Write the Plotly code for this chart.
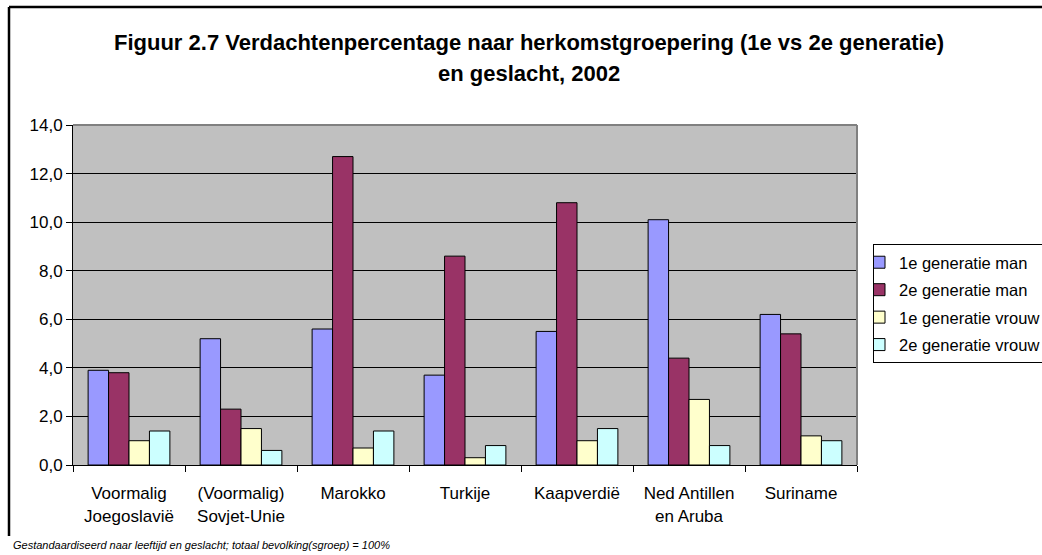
import plotly.graph_objects as go

categories = ["Voormalig<br>Joegoslavië", "(Voormalig)<br>Sovjet-Unie", "Marokko", "Turkije",
              "Kaapverdië", "Ned Antillen<br>en Aruba", "Suriname"]
gen1_man = [3.9, 5.2, 5.6, 3.7, 5.5, 10.1, 6.2]
gen2_man = [3.8, 2.3, 12.7, 8.6, 10.8, 4.4, 5.4]
gen1_vrouw = [1.0, 1.5, 0.7, 0.3, 1.0, 2.7, 1.2]
gen2_vrouw = [1.4, 0.6, 1.4, 0.8, 1.5, 0.8, 1.0]

series_names = ["1e generatie man", "2e generatie man", "1e generatie vrouw", "2e generatie vrouw"]
series_values = [gen1_man, gen2_man, gen1_vrouw, gen2_vrouw]
series_colors = ["#9999FF", "#993366", "#FFFFCC", "#CCFFFF"]

title_line1 = "Figuur 2.7 Verdachtenpercentage naar herkomstgroepering (1e vs 2e generatie)"
title_line2 = "en geslacht, 2002"
footnote = "Gestandaardiseerd naar leeftijd en geslacht; totaal bevolking(sgroep) = 100%"

W, H = 1042, 555
px = lambda x: x / W
py = lambda y: 1 - y / H

FONT = "Liberation Sans, Arial, sans-serif"

fig = go.Figure()
for i, (name, vals, col) in enumerate(zip(series_names, series_values, series_colors)):
    fig.add_trace(go.Bar(
        x=categories, y=vals, name=name,
        marker=dict(color=col, line=dict(color="black", width=1)),
        legendgroup=f"g{i}",
    ))

x0, x1 = 73, 857
y0, y1 = 125, 465

fig.update_layout(
    width=W, height=H,
    margin=dict(l=0, r=0, t=0, b=0, autoexpand=False),
    paper_bgcolor="white",
    plot_bgcolor="#C0C0C0",
    barmode="group",
    bargap=0.27,
    bargroupgap=0,
    separators=",.",
    font=dict(family=FONT, size=17, color="black"),
    showlegend=True,
    legend=dict(
        x=px(873), y=py(244), xanchor="left", yanchor="top",
        bordercolor="black", borderwidth=1, bgcolor="white",
        font=dict(family=FONT, size=16.5, color="black"),
        traceorder="grouped", tracegroupgap=3,
        itemwidth=30, indentation=-15,
    ),
    xaxis=dict(
        domain=[px(x0), px(x1)],
        showline=True, linecolor="black", linewidth=1,
        ticks="outside", tickson="boundaries", ticklen=6, tickcolor="black",
        tickfont=dict(family=FONT, size=17, color="black"),
        ticklabelstandoff=13,
        tickangle=0, automargin=False,
        showgrid=False,
    ),
    yaxis=dict(
        domain=[py(y1), py(y0)],
        range=[0, 14], dtick=2, tickformat=".1f",
        showline=True, linecolor="black", linewidth=1,
        ticks="outside", ticklen=6, tickcolor="black",
        tickfont=dict(family=FONT, size=17, color="black"),
        automargin=False,
        showgrid=True, gridcolor="black", gridwidth=1,
        zeroline=False,
    ),
    shapes=[
        dict(type="line", xref="paper", yref="paper", x0=px(x0), x1=px(x1), y0=py(y0), y1=py(y0),
             line=dict(color="#808080", width=2)),
        dict(type="line", xref="paper", yref="paper", x0=px(x1), x1=px(x1), y0=py(y0), y1=py(y1),
             line=dict(color="#808080", width=2)),
        dict(type="line", xref="paper", yref="paper", x0=px(9), x1=1, y0=py(7), y1=py(7),
             line=dict(color="black", width=2.5)),
        dict(type="line", xref="paper", yref="paper", x0=px(9), x1=px(9), y0=py(7), y1=py(536),
             line=dict(color="black", width=2.5)),
    ],
    annotations=[
        dict(text="<b>" + title_line1 + "</b>", xref="paper", yref="paper", x=px(529), y=py(43),
             xanchor="center", yanchor="middle", showarrow=False,
             font=dict(family=FONT, size=22, color="black")),
        dict(text="<b>" + title_line2 + "</b>", xref="paper", yref="paper", x=px(529), y=py(73),
             xanchor="center", yanchor="middle", showarrow=False,
             font=dict(family=FONT, size=22, color="black")),
        dict(text="<i>" + footnote + "</i>", xref="paper", yref="paper", x=px(11), y=py(545),
             xanchor="left", yanchor="middle", showarrow=False,
             font=dict(family=FONT, size=11, color="black")),
    ],
)

fig.write_html(
    "out.html",
    config={"displayModeBar": False},
    post_script="document.body.style.margin='0';document.body.style.overflow='hidden';",
)
